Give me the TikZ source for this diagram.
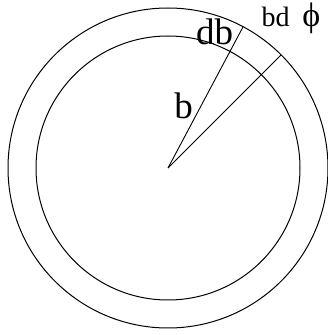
\documentclass[tikz,border=0pt]{standalone}
\usepackage{fontspec}
\setmainfont{Liberation Serif}
\usetikzlibrary{calc}

\begin{document}
\begin{tikzpicture}[
	x=1pt, y=1pt,
	ring/.style={draw=black, line width=1pt},
	radiusline/.style={draw=black, line width=0.9pt},
	bigtext/.style={font=\fontsize{37}{37}\selectfont, inner sep=0pt, anchor=base},
	smalltext/.style={font=\fontsize{28}{28}\selectfont, inner sep=0pt, anchor=base west}
	]
	
	\useasboundingbox (0,0) rectangle (327,335);
	\coordinate (O) at (168,167);
	\draw[ring] (O) circle (160);
	\draw[ring] (O) circle (132);
	
	\coordinate (rimB) at ($(O)+(62:160)$);
	\coordinate (rimPhi) at ($(O)+(45:160)$);
	\draw[radiusline] (O) -- (rimB);
	\draw[radiusline] (O) -- (rimPhi);
	
	\node[bigtext] (db) at (214.5,290) {db};
	\node[bigtext] (b) at (183.5,216.7) {b};
	\node[smalltext] (bdphi) at (261.5,308.3) {bd\hspace{0.2em} {\fontsize{34}{34}\selectfont ϕ}};
	
\end{tikzpicture}
\end{document}
